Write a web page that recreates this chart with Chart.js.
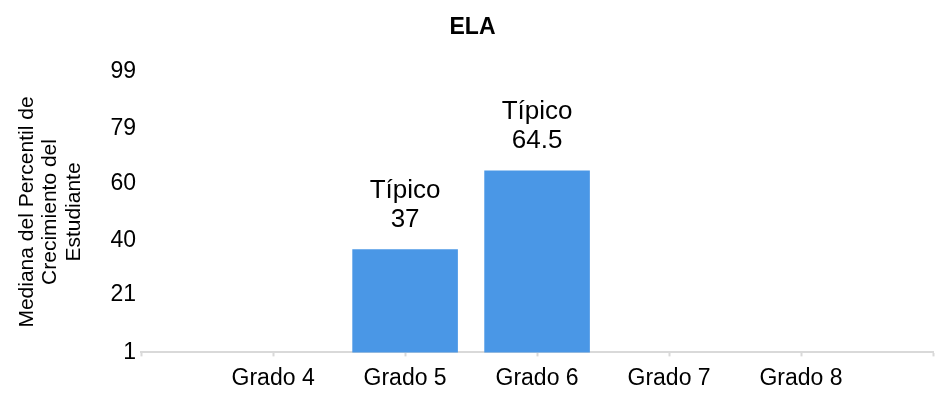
<!DOCTYPE html>
<html lang="es">
<head>
  <meta charset="UTF-8">
  <title>ELA</title>
  <script src="https://cdn.jsdelivr.net/npm/chart.js"></script>
  <style>
    body { margin: 0; background: #fff; }
    #wrap { width: 941px; height: 401px; }
  </style>
</head>
<body>
<div id="wrap"><canvas id="chartEla"></canvas></div>

<script>
  // === Datos ===
  const grados = ["", "Grado 4", "Grado 5", "Grado 6", "Grado 7", "Grado 8", ""];
  const valores = [null, null, 37, 64.5, null, null, null];
  const etiquetas = [null, null, "Típico", "Típico", null, null, null];
  const yTicks = [1, 21, 40, 60, 79, 99];

  const fuente = "'Liberation Sans', Arial, sans-serif";
  Chart.defaults.font.family = fuente;
  Chart.defaults.color = "#000";

  // etiquetas encima de las barras
  const etiquetasBarras = {
    id: "etiquetasBarras",
    afterDatasetsDraw(chart) {
      const ctx = chart.ctx;
      const meta = chart.getDatasetMeta(0);
      ctx.save();
      ctx.font = "26px " + fuente;
      ctx.fillStyle = "#000";
      ctx.textAlign = "center";
      ctx.textBaseline = "alphabetic";
      meta.data.forEach((bar, i) => {
        if (valores[i] == null) return;
        ctx.fillText(String(valores[i]), bar.x, bar.y - 22);
        ctx.fillText(etiquetas[i], bar.x, bar.y - 51);
      });
      ctx.restore();
    }
  };

  new Chart(document.getElementById("chartEla"), {
    type: "bar",
    data: {
      labels: grados,
      datasets: [{
        data: valores,
        backgroundColor: "#4A97E6",
        barPercentage: 0.8,
        categoryPercentage: 1
      }]
    },
    options: {
      responsive: true,
      maintainAspectRatio: false,
      animation: false,
      layout: { padding: { left: 10, right: 6, top: 4, bottom: 1 } },
      plugins: {
        legend: { display: false },
        tooltip: { enabled: false },
        title: {
          display: true,
          text: "ELA",
          font: { size: 23, weight: "bold" },
          padding: { top: 10, bottom: 30 }
        }
      },
      scales: {
        x: {
          offset: false,
          border: { color: "#d9d9d9", width: 2 },
          grid: { display: true, offset: false, drawOnChartArea: false, color: "#d9d9d9", tickLength: 4, tickWidth: 2 },
          ticks: { font: { size: 23 }, padding: 8, maxRotation: 0, autoSkip: false }
        },
        y: {
          min: 1,
          max: 99,
          afterBuildTicks: axis => { axis.ticks = yTicks.map(v => ({ value: v })); },
          border: { display: false },
          grid: { display: false, drawTicks: false },
          ticks: { font: { size: 23 }, padding: 5 },
          title: {
            display: true,
            text: ["Mediana del Percentil de", "Crecimiento del", "Estudiante"],
            font: { size: 21, lineHeight: 1.12 },
            padding: { top: 5, bottom: 20 }
          }
        }
      }
    },
    plugins: [etiquetasBarras]
  });
</script>
</body>
</html>
